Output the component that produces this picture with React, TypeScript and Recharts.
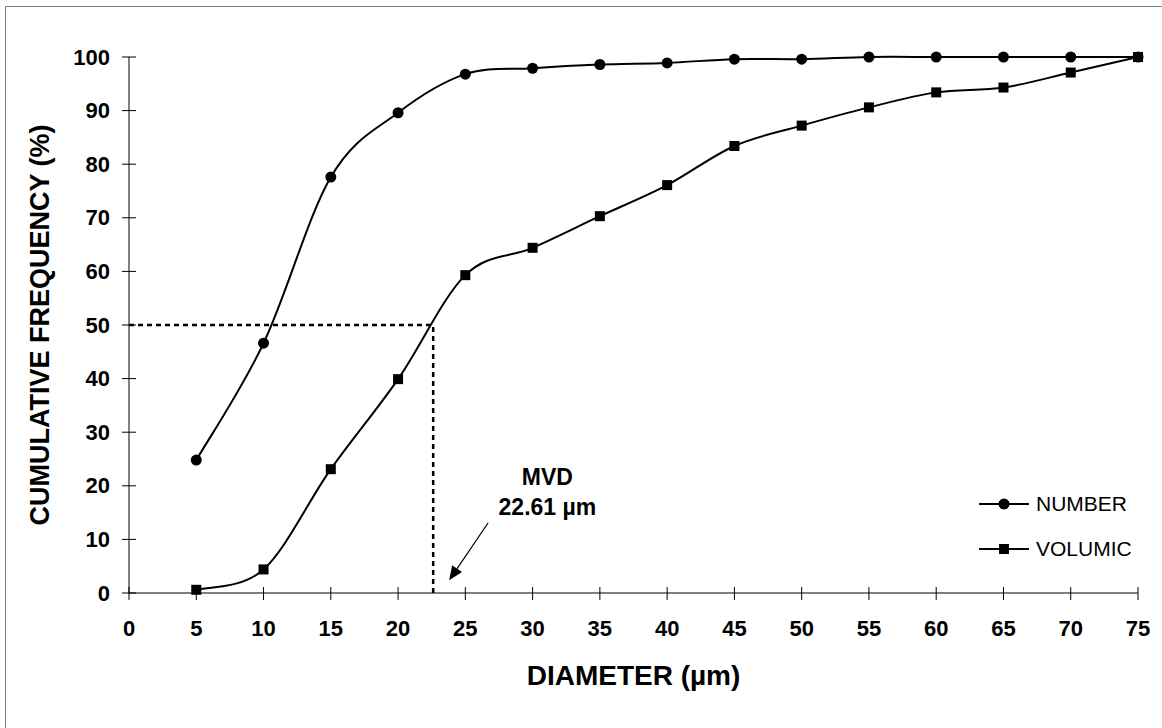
import { Line, LineChart, ReferenceDot, ReferenceLine, XAxis, YAxis } from 'recharts';

// Cumulative size distribution: number vs volume fraction, with the MVD marked.

const diameters = [5, 10, 15, 20, 25, 30, 35, 40, 45, 50, 55, 60, 65, 70, 75];
const numberPct = [24.8, 46.6, 77.6, 89.6, 96.8, 97.9, 98.6, 98.9, 99.6, 99.6, 100, 100, 100, 100, 100];
const volumicPct = [0.6, 4.4, 23.1, 39.9, 59.3, 64.4, 70.3, 76.1, 83.4, 87.2, 90.6, 93.4, 94.3, 97.1, 100];
const xTicks = [0, 5, 10, 15, 20, 25, 30, 35, 40, 45, 50, 55, 60, 65, 70, 75];
const yTicks = [0, 10, 20, 30, 40, 50, 60, 70, 80, 90, 100];
const mvd = 22.61;
const mvdLabel = ['MVD', '22.61 µm'];
const seriesNames = ['NUMBER', 'VOLUMIC'];

const rows = diameters.map((d, i) => ({ d, number: numberPct[i], volumic: volumicPct[i] }));

const FONT = '"Liberation Sans", Arial, sans-serif';

// Excel-like smoothed line (uniform Catmull-Rom through the points)
const smoothCurve = (context: any) => {
  let pts: number[][] = [];
  return {
    areaStart() {},
    areaEnd() {},
    lineStart() {
      pts = [];
    },
    point(x: number, y: number) {
      pts.push([+x, +y]);
    },
    lineEnd() {
      const n = pts.length;
      if (!n) return;
      context.moveTo(pts[0][0], pts[0][1]);
      for (let i = 0; i < n - 1; i++) {
        const p0 = pts[i - 1] || pts[i];
        const p1 = pts[i];
        const p2 = pts[i + 1];
        const p3 = pts[i + 2] || pts[i + 1];
        context.bezierCurveTo(
          p1[0] + (p2[0] - p0[0]) / 6,
          p1[1] + (p2[1] - p0[1]) / 6,
          p2[0] - (p3[0] - p1[0]) / 6,
          p2[1] - (p3[1] - p1[1]) / 6,
          p2[0],
          p2[1],
        );
      }
    },
  };
};

function XTick({ x, y, payload }: any) {
  return (
    <g>
      <line x1={x} x2={x} y1={y - 6} y2={y + 7} stroke="#000" />
      <text x={x} y={y + 35} textAnchor="middle" dominantBaseline="central" fontFamily={FONT} fontWeight="bold" fontSize={22} fill="#000">
        {payload.value}
      </text>
    </g>
  );
}

function YTick({ x, y, payload }: any) {
  return (
    <g>
      <line x1={x - 7} x2={x + 7} y1={y} y2={y} stroke="#000" />
      <text x={x - 19} y={y} textAnchor="end" dominantBaseline="central" fontFamily={FONT} fontWeight="bold" fontSize={22} fill="#000">
        {payload.value}
      </text>
    </g>
  );
}

const circleDot = (p: any) => <circle key={p.index} cx={p.cx} cy={p.cy} r={5.5} fill="#000" />;
const squareDot = (p: any) => <rect key={p.index} x={p.cx - 5} y={p.cy - 5} width={10} height={10} fill="#000" />;

function Arrow({ x1, y1, x2, y2 }: any) {
  const a = Math.atan2(y2 - y1, x2 - x1);
  const len = 14;
  const w = 6;
  const bx = x2 - len * Math.cos(a);
  const by = y2 - len * Math.sin(a);
  const px = -Math.sin(a) * w;
  const py = Math.cos(a) * w;
  return (
    <g>
      <line x1={x1} y1={y1} x2={bx} y2={by} stroke="#000" strokeWidth={1.2} />
      <polygon points={`${x2},${y2} ${bx + px},${by + py} ${bx - px},${by - py}`} fill="#000" />
    </g>
  );
}

function MvdText({ cx, cy }: any) {
  return (
    <g fontFamily={FONT} fontWeight="bold" fontSize={23} fill="#000">
      <text x={cx} y={cy} textAnchor="middle" dominantBaseline="central">
        {mvdLabel[0]}
      </text>
      <text x={cx} y={cy + 30} textAnchor="middle" dominantBaseline="central">
        {mvdLabel[1]}
      </text>
    </g>
  );
}

function LegendBox() {
  const item = (name: string, square: boolean) => (
    <div key={name} style={{ display: 'flex', alignItems: 'center', height: 45 }}>
      <svg width={50} height={14}>
        <line x1={0} x2={50} y1={7} y2={7} stroke="#000" strokeWidth={2} />
        {square ? <rect x={20} y={2} width={10} height={10} fill="#000" /> : <circle cx={25} cy={7} r={5.5} fill="#000" />}
      </svg>
      <span style={{ marginLeft: 7, fontFamily: FONT, fontSize: 21, color: '#000' }}>{name}</span>
    </div>
  );
  return (
    <div style={{ position: 'absolute', left: 979, top: 481 }}>
      {item(seriesNames[0], false)}
      {item(seriesNames[1], true)}
    </div>
  );
}

export default function App() {
  return (
    <div style={{ position: 'absolute', left: 0, top: 0, width: 1162, height: 728, background: '#fff' }}>
      <div style={{ position: 'absolute', left: 5, top: 6, right: 0, bottom: 0, borderLeft: '1px solid #808080', borderTop: '1px solid #808080' }} />
      <LineChart width={1162} height={728} data={rows} margin={{ top: 57, right: 24, left: 29, bottom: 35 }}>
        <XAxis
          type="number"
          dataKey="d"
          domain={[0, 75]}
          ticks={xTicks}
          interval={0}
          tickSize={0}
          tickMargin={0}
          tickLine={false}
          tick={XTick}
          axisLine={{ stroke: '#000' }}
          height={100}
          label={{
            value: 'DIAMETER (µm)',
            position: 'insideBottom',
            offset: 8,
            style: { fontFamily: FONT, fontWeight: 'bold', fontSize: 28, fill: '#000' },
          }}
        />
        <YAxis
          type="number"
          domain={[0, 100]}
          ticks={yTicks}
          interval={0}
          tickSize={0}
          tickMargin={0}
          tickLine={false}
          tick={YTick}
          axisLine={{ stroke: '#000' }}
          width={100}
          label={{
            content: ({ viewBox }: any) => {
              const cx = 40;
              const cy = viewBox.y + viewBox.height / 2;
              return (
                <text
                  x={cx}
                  y={cy}
                  transform={`rotate(-90 ${cx} ${cy})`}
                  textAnchor="middle"
                  dominantBaseline="central"
                  fontFamily={FONT}
                  fontWeight="bold"
                  fontSize={27}
                  fill="#000"
                >
                  CUMULATIVE FREQUENCY (%)
                </text>
              );
            },
          }}
        />
        <ReferenceLine segment={[{ x: 0, y: 50 }, { x: mvd, y: 50 }]} stroke="#000" strokeWidth={2.5} strokeDasharray="5 4" />
        <ReferenceLine segment={[{ x: mvd, y: 0 }, { x: mvd, y: 50 }]} stroke="#000" strokeWidth={2.5} strokeDasharray="5 4" />
        <ReferenceLine segment={[{ x: 26.7, y: 13.1 }, { x: 23.8, y: 2.4 }]} shape={Arrow} />
        <ReferenceDot x={31.1} y={21.6} r={0} shape={MvdText} />
        <Line
          dataKey="number"
          name={seriesNames[0]}
          type={smoothCurve as any}
          stroke="#000"
          strokeWidth={2}
          dot={circleDot}
          activeDot={false}
          isAnimationActive={false}
        />
        <Line
          dataKey="volumic"
          name={seriesNames[1]}
          type={smoothCurve as any}
          stroke="#000"
          strokeWidth={2}
          dot={squareDot}
          activeDot={false}
          isAnimationActive={false}
        />
      </LineChart>
      <LegendBox />
    </div>
  );
}
